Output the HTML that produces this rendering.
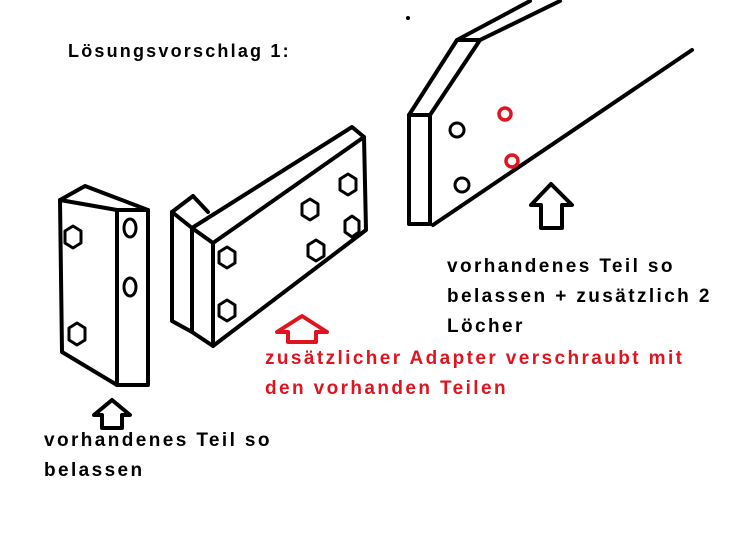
<!DOCTYPE html>
<html><head><style>
body{margin:0;background:#fff;}
.t{position:absolute;font-family:"Liberation Sans",sans-serif;font-weight:bold;font-size:19px;letter-spacing:2.4px;line-height:30px;white-space:nowrap;}
</style></head><body>
<div style="position:relative;width:732px;height:549px;overflow:hidden;">
<svg width="732" height="549" style="position:absolute;left:0;top:0" fill="none" stroke="#000" stroke-width="4" stroke-linejoin="round" stroke-linecap="round">
<!-- left block -->
<polyline points="117,210 60,200 62,352 117,385"/>
<polyline points="60,200 85,186 148,210"/>
<rect x="117" y="210" width="31" height="175"/>
<polygon points="73,226 81,231 81,243 73,248 65,243 65,231" stroke-width="3"/>
<polygon points="77,323 85,328 85,340 77,345 69,340 69,328" stroke-width="3"/>
<ellipse cx="130" cy="228" rx="6" ry="9" stroke-width="3"/>
<ellipse cx="130" cy="287" rx="6" ry="9" stroke-width="3"/>
<!-- middle adapter -->
<polygon points="172,212 192,228 192,332 172,321"/>
<polyline points="172,212 193,196 208,212"/>
<polygon points="192,228 213,243 213,346 192,332"/>
<polygon points="213,243 364,137 366,230 213,346"/>
<polyline points="192,228 352,127 364,137"/>
<polygon points="227,247 235,252 235,263 227,268 219,263 219,252" stroke-width="3"/>
<polygon points="227,300 235,305 235,316 227,321 219,316 219,305" stroke-width="3"/>
<polygon points="310,199 318,204 318,215 310,220 302,215 302,204" stroke-width="3"/>
<polygon points="348,174 356,179 356,190 348,195 340,190 340,179" stroke-width="3"/>
<polygon points="316,240 324,245 324,256 316,261 308,256 308,245" stroke-width="3"/>
<polygon points="352,216 359,221 359,232 352,237 345,232 345,221" stroke-width="3"/>
<!-- right part -->
<rect x="409" y="115" width="21" height="109"/>
<polyline points="409,115 457,40 480,40 430,115"/>
<line x1="457" y1="40" x2="530" y2="1"/>
<line x1="480" y1="40" x2="560" y2="1"/>
<line x1="433" y1="225" x2="692" y2="50"/>
<circle cx="457" cy="130" r="7" stroke-width="3"/>
<circle cx="462" cy="185" r="7" stroke-width="3"/>
<circle cx="505" cy="114" r="6" stroke="#e0141e" stroke-width="3.5"/>
<circle cx="512" cy="161" r="6" stroke="#e0141e" stroke-width="3.5"/>
<circle cx="408" cy="18" r="1.5" fill="#000" stroke-width="1"/>
<!-- arrows -->
<polygon points="551,184 572,205 562,205 562,228 541,228 541,205 531,205"/>
<polygon points="302,316 327,332 316,332 316,342 288,342 288,332 277,332" stroke="#e0141e"/>
<polygon points="112,400 130,415 122,415 122,428 102,428 102,415 94,415"/>
</svg>
<div class="t" style="left:68px;top:36px;font-size:18px;letter-spacing:2.2px;">Lösungsvorschlag 1:</div>
<div class="t" style="left:447px;top:252px;">vorhandenes Teil so<br>belassen + zusätzlich 2<br>Löcher</div>
<div class="t" style="left:265px;top:344px;color:#e0141e;">zusätzlicher Adapter verschraubt mit<br>den vorhanden Teilen</div>
<div class="t" style="left:44px;top:426px;">vorhandenes Teil so<br>belassen</div>
</div>
</body></html>
